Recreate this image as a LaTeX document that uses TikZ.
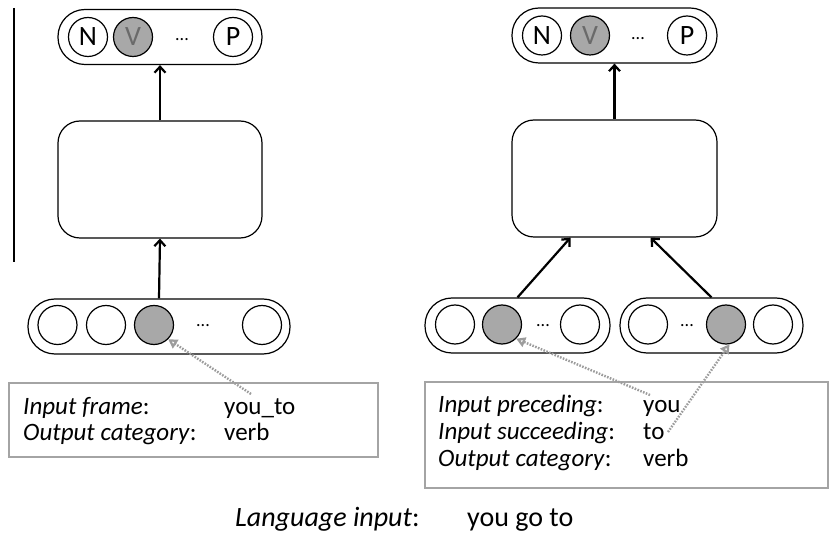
\documentclass[tikz,border=0pt]{standalone}
\usepackage{fontspec}
\setmainfont{Carlito}
\usetikzlibrary{arrows.meta}
\definecolor{unitgray}{HTML}{A8A8A8}
\definecolor{vgray}{HTML}{6A6A6A}
\definecolor{linkgray}{HTML}{9C9C9C}
\definecolor{framegray}{HTML}{A4A4A4}
\tikzset{
  pill/.style={draw=black, line width=1.2pt, rounded corners=27pt, minimum height=55pt, inner sep=0pt},
  hid/.style={draw=black, line width=1.2pt, rounded corners=22pt, minimum width=205pt, minimum height=117pt},
  unit/.style={circle, draw=black, line width=1.2pt, minimum size=39pt, inner sep=0pt, font=\fontsize{28}{28}\selectfont},
  act/.style={unit, fill=unitgray, text=vgray},
  dots/.style={inner sep=0pt, font=\fontsize{18}{18}\selectfont},
  arr/.style={draw=black, line width=2.2pt, -{Straight Barb[length=6pt,width=11pt]}},
  link/.style={draw=linkgray, line width=2.4pt, dash pattern=on 1.6pt off 1.4pt, -{Triangle[open,length=9pt,width=10pt]}},
  frame/.style={draw=framegray, line width=1.2pt, inner sep=0pt},
  lab/.style={anchor=base west, inner sep=0pt, font=\fontsize{25}{28}\selectfont},
}

\begin{document}
\begin{tikzpicture}[x=1pt,y=-1pt]
  \useasboundingbox (0,0) rectangle (831,537);
  \draw[line width=1.2pt] (14,8) -- (14,262);

  % left network: input frame
  \node[pill, minimum width=204pt] (outL) at (160,37) {};
  \node[unit] (nL) at (88,37) {N};
  \node[act] (vL) at (133,37) {V};
  \node[dots] (dL) at (182,40) {...};
  \node[unit] (pL) at (233,37) {P};

  \node[hid, minimum width=204pt] (hidL) at (160,179.5) {};

  \node[pill, minimum width=262pt] (inL) at (159,326.5) {};
  \node[unit] (uL1) at (57.5,325) {};
  \node[unit] (uL2) at (106,325) {};
  \node[act] (uL3) at (154,325) {};
  \node[dots] (dL2) at (203,326) {...};
  \node[unit] (uL4) at (262,325) {};

  \draw[arr] (inL.north) -- (hidL.south);
  \draw[arr] (hidL.north) -- (outL.south);

  \node[frame, minimum width=369pt, minimum height=74pt] (boxL) at (193.5,420) {};
  \node[lab] (frameL) at (23,415) {\textit{Input frame}:};
  \node[lab] (youto) at (224,415) {you\_to};
  \node[lab] (catL) at (23,441) {\textit{Output category}:};
  \node[lab] (verbL) at (224,441) {verb};
  \coordinate (srcL) at (251,394);
  \draw[link] (srcL) -- (uL3.south east);

  % right network: preceding + succeeding
  \node[pill, minimum width=205pt] (outR) at (614.5,35.5) {};
  \node[unit] (nR) at (542,35.5) {N};
  \node[act] (vR) at (590,35.5) {V};
  \node[dots] (dR) at (638,38.5) {...};
  \node[unit] (pR) at (687,35.5) {P};

  \node[hid] (hidR) at (614.5,178.5) {};

  \node[pill, minimum width=185pt] (inP) at (517.5,325.5) {};
  \node[unit] (uP1) at (455,324.5) {};
  \node[act] (uP2) at (502,324.5) {};
  \node[dots] (dP) at (543,325.5) {...};
  \node[unit] (uP3) at (580,324.5) {};

  \node[pill, minimum width=183pt] (inS) at (711.5,325.5) {};
  \node[unit] (uS1) at (648,324.5) {};
  \node[dots] (dS) at (687,325.5) {...};
  \node[act] (uS2) at (726,324.5) {};
  \node[unit] (uS3) at (773,324.5) {};

  \draw[arr] (inP.north) -- ([xshift=-44pt]hidR.south);
  \draw[arr] (inS.north) -- ([xshift=36pt]hidR.south);
  \draw[arr] (hidR.north) -- (outR.south);

  \node[frame, minimum width=403pt, minimum height=106pt] (boxR) at (626.5,435) {};
  \node[lab] (precR) at (438,413) {\textit{Input preceding}:};
  \node[lab] (you) at (643,413) {you};
  \node[lab] (succR) at (438,440) {\textit{Input succeeding}:};
  \node[lab] (to) at (643,440) {to};
  \node[lab] (catR) at (438,467) {\textit{Output category}:};
  \node[lab] (verbR) at (643,467) {verb};
  \coordinate (srcP) at (650,395);
  \coordinate (srcS) at (668,432);
  \draw[link] (srcP) -- (uP2.south east);
  \draw[link] (srcS) -- (uS2.-80);

  % language input line
  \node[lab, font=\fontsize{28}{30}\selectfont] (langin) at (235,526) {\textit{Language input}:};
  \node[lab, font=\fontsize{28}{30}\selectfont] (sent) at (467,526) {you go to};
\end{tikzpicture}
\end{document}
